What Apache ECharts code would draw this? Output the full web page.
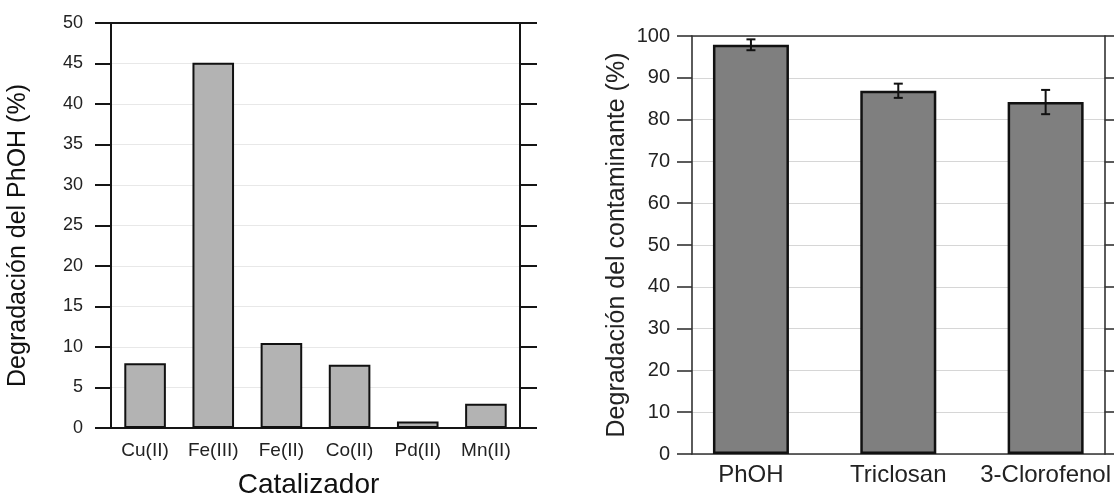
<!DOCTYPE html>
<html>
<head>
<meta charset="utf-8">
<script src="https://cdn.jsdelivr.net/npm/echarts@6/dist/echarts.min.js"></script>
<style>
html,body{margin:0;padding:0;background:#fff;}
#chart{width:1114px;height:504px;}
</style>
</head>
<body>
<div id="chart"></div>
<script>
// Left chart data
const cats1 = ['Cu(II)', 'Fe(III)', 'Fe(II)', 'Co(II)', 'Pd(II)', 'Mn(II)'];
const vals1 = [8.0, 45.1, 10.5, 7.8, 0.8, 3.0];
// Right chart data
const cats2 = ['PhOH', 'Triclosan', '3-Clorofenol'];
const vals2 = [97.9, 86.9, 84.2];
const errs2 = [1.3, 1.7, 2.9];
const catPos2 = [0, 1, 2];

const FONT = 'Liberation Sans, Arial, Helvetica, sans-serif';
const TXT = '#222';
const LINE = '#151515';

const chart = echarts.init(document.getElementById('chart'), null, {renderer: 'canvas'});

const axisLineL = {show: true, onZero: false, lineStyle: {color: LINE, width: 2}};
const axisLineR = {show: true, onZero: false, lineStyle: {color: '#333', width: 1.6}};

const option = {
  animation: false,
  backgroundColor: '#fff',
  textStyle: {fontFamily: FONT},
  grid: [
    {left: 111, top: 23, width: 409, height: 411},
    {left: 692, top: 36, width: 416, height: 418}
  ],
  xAxis: [
    {
      type: 'category', gridIndex: 0, data: cats1, position: 'bottom',
      axisLine: axisLineL, axisTick: {show: false},
      axisLabel: {fontSize: 19, color: TXT, margin: 13, fontFamily: FONT},
      name: 'Catalizador', nameLocation: 'middle', nameGap: 43,
      nameTextStyle: {fontSize: 28, color: '#111', fontFamily: FONT, padding: [0, 14, 0, 0]}
    },
    {
      type: 'category', gridIndex: 0, data: cats1, position: 'top',
      axisLine: axisLineL, axisTick: {show: false}, axisLabel: {show: false}
    },
    {
      type: 'value', gridIndex: 1, min: -0.4, max: 2.4, position: 'bottom',
      axisLine: axisLineR, axisTick: {show: false}, splitLine: {show: false},
      axisLabel: {
        customValues: catPos2, fontSize: 24, color: TXT, margin: 9, fontFamily: FONT,
        formatter: function (v) { return cats2[Math.round(v)]; }
      }
    },
    {
      type: 'value', gridIndex: 1, min: -0.4, max: 2.4, position: 'top',
      axisLine: axisLineR, axisTick: {show: false}, splitLine: {show: false}, axisLabel: {show: false}
    }
  ],
  yAxis: [
    {
      type: 'value', gridIndex: 0, min: 0, max: 50, interval: 5, position: 'left',
      axisLine: axisLineL,
      axisTick: {show: true, length: 16, lineStyle: {color: LINE, width: 2}},
      axisLabel: {fontSize: 18, color: TXT, margin: 28, fontFamily: FONT},
      splitLine: {show: true, lineStyle: {color: '#e8e8e8', width: 1}},
      name: 'Degradación del PhOH (%)', nameLocation: 'middle', nameGap: 80,
      nameTextStyle: {fontSize: 25, color: '#111', fontFamily: FONT, padding: [0, 20, 0, 0]}
    },
    {
      type: 'value', gridIndex: 0, min: 0, max: 50, interval: 5, position: 'right',
      axisLine: axisLineL,
      axisTick: {show: true, length: 17, lineStyle: {color: LINE, width: 2}},
      axisLabel: {show: false}, splitLine: {show: false}
    },
    {
      type: 'value', gridIndex: 1, min: 0, max: 100, interval: 10, position: 'left',
      axisLine: axisLineR,
      axisTick: {show: true, length: 15, lineStyle: {color: '#333', width: 1.6}},
      axisLabel: {fontSize: 20, color: TXT, margin: 22, fontFamily: FONT},
      splitLine: {show: true, lineStyle: {color: '#d6d6d6', width: 1.2}},
      name: 'Degradación del contaminante (%)', nameLocation: 'middle', nameGap: 62,
      nameTextStyle: {fontSize: 25, color: '#222', fontFamily: FONT}
    },
    {
      type: 'value', gridIndex: 1, min: 0, max: 100, interval: 10, position: 'right',
      axisLine: axisLineR,
      axisTick: {show: true, length: 17, lineStyle: {color: '#333', width: 1.6}},
      axisLabel: {show: false}, splitLine: {show: false}
    }
  ],
  series: [
    {
      type: 'bar', xAxisIndex: 0, yAxisIndex: 0, data: vals1, barWidth: '61%',
      itemStyle: {color: '#b3b3b3', borderColor: '#111', borderWidth: 2}
    },
    {
      type: 'bar', xAxisIndex: 2, yAxisIndex: 2,
      data: vals2.map(function (v, i) { return [catPos2[i], v]; }),
      barWidth: 76,
      itemStyle: {color: '#7f7f7f', borderColor: '#111', borderWidth: 2.5}
    },
    {
      type: 'custom', xAxisIndex: 2, yAxisIndex: 2,
      data: vals2.map(function (v, i) { return [catPos2[i], v - errs2[i], v + errs2[i]]; }),
      encode: {x: 0, y: [1, 2]},
      z: 5,
      renderItem: function (params, api) {
        const lo = api.coord([api.value(0), api.value(1)]);
        const hi = api.coord([api.value(0), api.value(2)]);
        const hw = 4.5;
        const st = {stroke: '#111', lineWidth: 2};
        return {
          type: 'group',
          children: [
            {type: 'line', shape: {x1: lo[0], y1: lo[1], x2: hi[0], y2: hi[1]}, style: st},
            {type: 'line', shape: {x1: hi[0] - hw, y1: hi[1], x2: hi[0] + hw, y2: hi[1]}, style: st},
            {type: 'line', shape: {x1: lo[0] - hw, y1: lo[1], x2: lo[0] + hw, y2: lo[1]}, style: st}
          ]
        };
      }
    }
  ]
};
chart.setOption(option);
</script>
</body>
</html>
